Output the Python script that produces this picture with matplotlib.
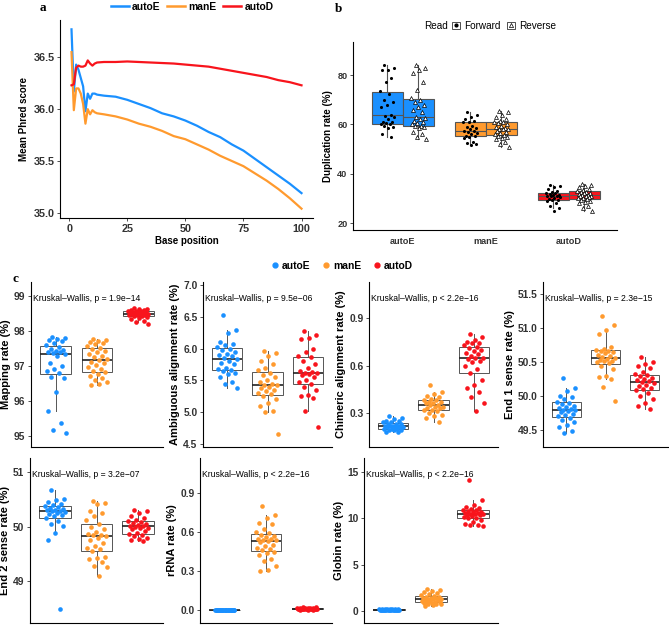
import numpy as np
import matplotlib
matplotlib.use("Agg")
import matplotlib.pyplot as plt
from matplotlib.lines import Line2D
from matplotlib.patches import Rectangle

plt.rcParams['font.family'] = ['Liberation Sans', 'DejaVu Sans']
plt.rcParams['font.weight'] = 'bold'
plt.rcParams['axes.labelweight'] = 'bold'

groups = ['autoE', 'manE', 'autoD']
colors = ['#1a90ff', '#ff9a2e', '#f8141c']

# ---- panel a: mean phred score per base position
base_pos = [1, 2, 3, 4, 5, 6, 7, 8, 9, 10, 11, 12, 15, 20, 25, 30, 35, 40, 45, 50,
            55, 60, 65, 70, 75, 80, 85, 90, 95, 100]
phred_autoE = [36.77, 36.17, 36.43, 36.38, 36.30, 36.22, 35.98, 36.15, 36.10, 36.15, 36.15, 36.14,
               36.13, 36.12, 36.09, 36.05, 36.01, 35.96, 35.93, 35.89, 35.84, 35.78, 35.73, 35.66,
               35.60, 35.52, 35.44, 35.36, 35.28, 35.19]
phred_manE = [36.55, 35.99, 36.20, 36.20, 36.15, 36.05, 35.86, 36.00, 35.95, 35.99, 35.97, 35.96,
              35.95, 35.93, 35.90, 35.86, 35.83, 35.79, 35.74, 35.71, 35.66, 35.61, 35.55, 35.50,
              35.45, 35.38, 35.31, 35.23, 35.14, 35.04]
phred_autoD = [36.23, 36.24, 36.40, 36.42, 36.41, 36.41, 36.42, 36.47, 36.44, 36.42, 36.44, 36.45,
               36.455, 36.455, 36.46, 36.455, 36.45, 36.445, 36.44, 36.43, 36.42, 36.41, 36.39, 36.37,
               36.35, 36.33, 36.31, 36.28, 36.26, 36.23]

# ---- panel b: duplication rate, forward / reverse reads
dup_fwd = {
    'autoE': [84, 83, 82, 82, 79, 77, 73.5, 72.5, 70, 69, 68, 67, 63.8, 63.6, 63, 62, 61, 61,
              60.5, 60.3, 60, 59.5, 59, 58.5, 56, 55],
    'manE': [65, 64, 63, 62, 61.5, 61, 61, 59.5, 59, 58.5, 58, 57.5, 57.5, 57, 56.5, 56, 55.5,
             55.3, 55, 54.5, 53, 52.5, 52, 51.5],
    'autoD': [35.5, 35, 34.5, 34, 33, 32.5, 32.2, 32, 31.8, 31.5, 31.2, 31, 31, 30.8, 30.5, 30,
              29.8, 29.5, 29.5, 29, 28, 27, 26, 25],
}
dup_rev = {
    'autoE': [84, 83, 82, 81, 77, 74, 70.5, 70, 69, 68, 67, 66, 65, 63, 62.6, 62, 61.5, 61, 60.5,
              60, 59.5, 59.2, 59, 58.5, 57, 56, 55, 54],
    'manE': [65.5, 65, 64, 63, 62, 61.5, 61, 60.8, 60.5, 60, 59.5, 59, 58.5, 58.3, 58.2, 58, 57.5,
             57, 56.5, 56, 55.8, 55.5, 55, 54.5, 54, 53, 52, 51],
    'autoD': [36, 35.5, 35, 34.5, 34, 33.5, 33, 32.8, 32.5, 32.3, 32, 31.8, 31.5, 31.3, 31.1, 31,
              30.8, 30.5, 30.3, 30, 29.6, 29.5, 29, 28.5, 28, 27, 26, 25],
}

# ---- panel c: QC metrics
mapping_rate = {
    'autoE': [97.83, 97.80, 97.78, 97.75, 97.72, 97.65, 97.60, 97.55, 97.50, 97.47, 97.44, 97.41,
              97.39, 97.36, 97.34, 97.28, 97.10, 97.00, 96.92, 96.85, 96.80, 96.70, 96.65, 96.25,
              95.72, 95.38, 95.18, 95.08],
    'manE': [97.78, 97.75, 97.72, 97.70, 97.66, 97.62, 97.58, 97.52, 97.48, 97.44, 97.40, 97.35,
             97.30, 97.25, 97.20, 97.16, 97.12, 97.08, 97.02, 96.97, 96.92, 96.86, 96.82, 96.78,
             96.72, 96.66, 96.60, 96.55, 96.50, 96.45],
    'autoD': [98.65, 98.63, 98.62, 98.60, 98.60, 98.58, 98.57, 98.56, 98.55, 98.54, 98.53, 98.52,
              98.51, 98.50, 98.50, 98.49, 98.48, 98.47, 98.46, 98.45, 98.44, 98.42, 98.40, 98.38,
              98.35, 98.30, 98.25, 98.20],
}
ambiguous_rate = {
    'autoE': [6.53, 6.30, 6.25, 6.10, 6.08, 6.05, 6.02, 6.00, 5.98, 5.95, 5.92, 5.90, 5.88, 5.85,
              5.83, 5.80, 5.78, 5.75, 5.70, 5.68, 5.66, 5.65, 5.62, 5.60, 5.55, 5.48, 5.45, 5.38],
    'manE': [5.96, 5.93, 5.88, 5.80, 5.75, 5.70, 5.66, 5.62, 5.58, 5.55, 5.50, 5.47, 5.45, 5.43,
             5.42, 5.40, 5.38, 5.35, 5.33, 5.30, 5.28, 5.25, 5.20, 5.15, 5.10, 5.02, 5.00, 4.66],
    'autoD': [6.28, 6.22, 6.17, 6.15, 6.00, 5.95, 5.88, 5.87, 5.80, 5.75, 5.70, 5.65, 5.63, 5.62,
              5.61, 5.60, 5.58, 5.55, 5.50, 5.47, 5.45, 5.40, 5.35, 5.27, 5.25, 5.22, 5.02, 4.76],
}
chimeric_rate = {
    'autoE': [0.28, 0.27, 0.26, 0.25, 0.25, 0.24, 0.24, 0.23, 0.23, 0.23, 0.22, 0.22, 0.22, 0.22,
              0.21, 0.21, 0.21, 0.21, 0.20, 0.20, 0.20, 0.19, 0.19, 0.19, 0.18, 0.18],
    'manE': [0.48, 0.43, 0.42, 0.41, 0.40, 0.39, 0.38, 0.38, 0.37, 0.37, 0.36, 0.36, 0.35, 0.35,
             0.34, 0.34, 0.33, 0.33, 0.32, 0.32, 0.31, 0.30, 0.29, 0.28, 0.27, 0.24],
    'autoD': [0.80, 0.78, 0.76, 0.75, 0.74, 0.74, 0.73, 0.72, 0.71, 0.70, 0.69, 0.68, 0.67, 0.66,
              0.65, 0.65, 0.64, 0.63, 0.62, 0.60, 0.58, 0.55, 0.51, 0.48, 0.46, 0.43, 0.40, 0.36,
              0.31],
}
end1_sense = {
    'autoE': [50.26, 50.12, 50.08, 50.00, 49.98, 49.95, 49.92, 49.90, 49.88, 49.86, 49.84, 49.82,
              49.81, 49.80, 49.79, 49.78, 49.76, 49.74, 49.72, 49.70, 49.68, 49.65, 49.62, 49.58,
              49.55, 49.48, 49.45],
    'manE': [51.18, 51.05, 50.97, 50.92, 50.72, 50.70, 50.68, 50.67, 50.66, 50.65, 50.63, 50.61,
             50.59, 50.57, 50.56, 50.55, 50.53, 50.52, 50.51, 50.50, 50.48, 50.45, 50.40, 50.30,
             50.28, 50.25, 50.13, 49.93],
    'autoD': [50.57, 50.50, 50.47, 50.45, 50.42, 50.35, 50.32, 50.31, 50.29, 50.27, 50.25, 50.23,
              50.22, 50.20, 50.19, 50.17, 50.15, 50.12, 50.10, 50.09, 50.05, 50.00, 49.95, 49.90,
              49.85, 49.81],
}
end2_sense = {
    'autoE': [50.67, 50.50, 50.48, 50.45, 50.42, 50.40, 50.38, 50.36, 50.35, 50.33, 50.31, 50.30,
              50.29, 50.28, 50.27, 50.25, 50.23, 50.22, 50.20, 50.15, 50.10, 50.05, 50.02, 49.88,
              49.75, 48.48],
    'manE': [50.47, 50.44, 50.42, 50.28, 50.25, 50.20, 50.12, 50.04, 50.00, 49.95, 49.90, 49.87,
             49.85, 49.84, 49.83, 49.80, 49.75, 49.70, 49.65, 49.60, 49.58, 49.55, 49.45, 49.42,
             49.40, 49.35, 49.28, 49.25, 49.10],
    'autoD': [50.30, 50.28, 50.25, 50.20, 50.15, 50.12, 50.10, 50.09, 50.07, 50.05, 50.03, 50.02,
              50.01, 50.00, 49.98, 49.97, 49.95, 49.92, 49.88, 49.86, 49.84, 49.82, 49.80, 49.78,
              49.75, 49.73],
}
rrna_rate = {
    'autoE': [0.003, 0.003, 0.002, 0.002, 0.002, 0.002, 0.002, 0.001, 0.001, 0.001, 0.001, 0.001,
              0.001, 0.001, 0.001, 0.001, 0.001, 0.001, 0.001, 0.0, 0.0, 0.0, 0.0, 0.0, 0.0, 0.0],
    'manE': [0.80, 0.73, 0.71, 0.67, 0.66, 0.62, 0.60, 0.59, 0.58, 0.57, 0.56, 0.55, 0.55, 0.54,
             0.54, 0.53, 0.52, 0.50, 0.49, 0.48, 0.47, 0.46, 0.45, 0.44, 0.42, 0.39, 0.38, 0.34,
             0.31, 0.30],
    'autoD': [0.022, 0.020, 0.018, 0.016, 0.015, 0.014, 0.013, 0.012, 0.011, 0.010, 0.010, 0.009,
              0.009, 0.008, 0.008, 0.007, 0.007, 0.006, 0.006, 0.005, 0.005, 0.004, 0.004, 0.003,
              0.003, 0.002],
}
globin_rate = {
    'autoE': [0.25, 0.22, 0.20, 0.19, 0.18, 0.17, 0.16, 0.16, 0.15, 0.15, 0.14, 0.14, 0.13, 0.13,
              0.12, 0.12, 0.11, 0.11, 0.10, 0.10, 0.09, 0.09, 0.08, 0.08, 0.07, 0.06],
    'manE': [2.40, 2.30, 2.20, 2.05, 1.95, 1.85, 1.70, 1.60, 1.55, 1.50, 1.45, 1.40, 1.35, 1.30,
             1.28, 1.25, 1.20, 1.15, 1.10, 1.05, 1.00, 0.95, 0.92, 0.90, 0.85, 0.80, 0.75, 0.70,
             0.60, 0.50],
    'autoD': [14.10, 12.00, 11.40, 11.20, 11.10, 11.00, 10.90, 10.85, 10.80, 10.70, 10.65, 10.60,
              10.55, 10.50, 10.50, 10.45, 10.40, 10.30, 10.20, 10.10, 10.05, 10.00, 9.80, 9.60,
              9.40, 9.30, 9.25, 9.20],
}

W, H = 669, 626
fig = plt.figure(figsize=(W / 100, H / 100), dpi=100)


def place(l, t, r, b):
    return fig.add_axes([l / W, 1 - b / H, (r - l) / W, (b - t) / H])


def classic(ax, size=7):
    for s in ['top', 'right']:
        ax.spines[s].set_visible(False)
    for s in ['left', 'bottom']:
        ax.spines[s].set_linewidth(0.8)
    ax.tick_params(length=2.5, width=0.6, color='#333333', labelsize=size,
                   labelcolor='#333333', pad=1.5)
    for t in ax.get_xticklabels() + ax.get_yticklabels():
        t.set_fontweight('bold')


def jitter(n, w):
    # fixed spread pattern, only used for horizontal placement of the dots
    return ((np.arange(n) * 0.618034 + 0.31) % 1 - 0.5) * 2 * w


# ---------------- panel a
ax = place(60, 20, 313, 218)
for vals, c in zip([phred_autoE, phred_manE, phred_autoD], colors):
    ax.plot(base_pos, vals, color=c, lw=1.6)
ax.set_xlim(-3.95, 104.95)
ax.set_ylim(34.95, 36.86)
ax.set_xticks([0, 25, 50, 75, 100])
ax.set_yticks([35.0, 35.5, 36.0, 36.5])
ax.set_yticklabels(['35.0', '35.5', '36.0', '36.5'])
classic(ax, 7.8)
ax.set_xlabel('Base position', fontsize=7, labelpad=2)
ax.set_ylabel('Mean Phred score', fontsize=7, labelpad=3)

fig.legend([Line2D([], [], color=c, lw=1.8) for c in colors], groups,
           loc='center', bbox_to_anchor=(192 / W, 1 - 7 / H), ncol=3, frameon=False,
           prop=dict(size=7.4, weight='bold'), handlelength=1.8, handletextpad=0.3,
           columnspacing=0.6, borderpad=0)

fig.text(40 / W, 1 - 8 / H, 'a', family=['Liberation Serif'], fontsize=9.5,
         fontweight='bold', ha='left', va='center')

# ---------------- panel b
ax = place(353, 42, 617, 230)
off = 0.1875
bw = 0.375
for i, g in enumerate(groups):
    for d, sign, mk in [(dup_fwd, -1, 'o'), (dup_rev, 1, '^')]:
        p = i + 1 + sign * off
        ax.boxplot([d[g]], positions=[p], widths=bw, patch_artist=True, showfliers=False,
                   showcaps=False,
                   boxprops=dict(facecolor=colors[i], edgecolor='#555555', lw=0.8),
                   whiskerprops=dict(color='#555555', lw=0.8),
                   medianprops=dict(color='#555555', lw=0.8))
        xs = p + jitter(len(d[g]), 0.09)
        if mk == 'o':
            ax.scatter(xs, d[g], s=5, color='black', zorder=3, lw=0)
        else:
            ax.scatter(xs, d[g], s=8, marker='^', facecolor='white', edgecolor='black',
                       lw=0.5, zorder=3)
ax.set_xlim(0.4, 3.58)
ax.set_ylim(17.2, 93.4)
ax.set_xticks([1, 2, 3])
ax.set_xticklabels(groups)
ax.set_yticks([20, 40, 60, 80])
classic(ax, 6.6)
ax.tick_params(axis='x', length=0, pad=5)
ax.set_ylabel('Duplication rate (%)', fontsize=7, labelpad=3)

fig.text(424 / W, 1 - 26 / H, 'Read', fontsize=7.2, fontweight='normal', ha='left', va='center')
h_fwd = (Rectangle((0, 0), 1, 1, facecolor='white', edgecolor='#333333', lw=0.6),
         Line2D([], [], marker='o', ls='', color='black', ms=2))
h_rev = (Rectangle((0, 0), 1, 1, facecolor='white', edgecolor='#333333', lw=0.6),
         Line2D([], [], marker='^', ls='', mfc='white', mec='black', ms=3, mew=0.5))
fig.legend([h_fwd, h_rev], ['Forward', 'Reverse'], loc='center',
           bbox_to_anchor=(504 / W, 1 - 26 / H), ncol=2, frameon=False,
           prop=dict(size=7.2, weight='normal'), handlelength=0.8, handleheight=0.8,
           handletextpad=0.4, columnspacing=0.6, borderpad=0)

fig.text(335 / W, 1 - 9 / H, 'b', family=['Liberation Serif'], fontsize=9.5,
         fontweight='bold', ha='left', va='center')

# ---------------- panel c
panels = [
    (mapping_rate, 'Mapping rate (%)', 'Kruskal\u2013Wallis, p = 1.9e\u221214', (31, 282, 163, 447),
     (94.69, 99.4), [95, 96, 97, 98, 99], None),
    (ambiguous_rate, 'Ambiguous alignment rate (%)', 'Kruskal\u2013Wallis, p = 9.5e\u221206',
     (203, 282, 332, 447), (4.45, 7.05), [4.5, 5.0, 5.5, 6.0, 6.5, 7.0], '{:.1f}'),
    (chimeric_rate, 'Chimeric alignment rate (%)', 'Kruskal\u2013Wallis, p < 2.2e\u221216',
     (369, 282, 498, 447), (0.085, 1.128), [0.3, 0.6, 0.9], '{:.1f}'),
    (end1_sense, 'End 1 sense rate (%)', 'Kruskal\u2013Wallis, p = 2.3e\u221215',
     (543, 282, 668, 447), (49.25, 51.68), [49.5, 50.0, 50.5, 51.0, 51.5], '{:.1f}'),
    (end2_sense, 'End 2 sense rate (%)', 'Kruskal\u2013Wallis, p = 3.2e\u221207',
     (30, 458, 163, 623), (48.23, 51.26), [49, 50, 51], None),
    (rrna_rate, 'rRNA rate (%)', 'Kruskal\u2013Wallis, p < 2.2e\u221216',
     (200, 458, 332, 623), (-0.1, 1.17), [0.0, 0.3, 0.6, 0.9], '{:.1f}'),
    (globin_rate, 'Globin rate (%)', 'Kruskal\u2013Wallis, p < 2.2e\u221216',
     (364, 458, 498, 623), (-1.3, 16.5), [0, 5, 10, 15], None),
]

for data, ylab, kw, rect, ylim, yt, fmt in panels:
    ax = place(*rect)
    for i, g in enumerate(groups):
        ax.boxplot([data[g]], positions=[i + 1], widths=0.75, patch_artist=True,
                   showfliers=False, showcaps=False,
                   boxprops=dict(facecolor='white', edgecolor='#555555', lw=0.7),
                   whiskerprops=dict(color='#555555', lw=0.7),
                   medianprops=dict(color='#222222', lw=1.2))
        ax.scatter(i + 1 + jitter(len(data[g]), 0.25), data[g], s=11, color=colors[i],
                   lw=0, zorder=3)
    ax.set_xlim(0.4, 3.6)
    ax.set_ylim(*ylim)
    ax.set_yticks(yt)
    if fmt:
        ax.set_yticklabels([fmt.format(v) for v in yt])
    ax.set_xticks([])
    classic(ax, 7.4)
    ax.set_ylabel(ylab, fontsize=8, labelpad=2)
    ax.text(0.015, 0.897, kw, transform=ax.transAxes, fontsize=6.2, fontweight='normal',
            family=['Liberation Sans Narrow', 'Liberation Sans'], ha='left', va='center')

fig.legend([Line2D([], [], marker='o', ls='', color=c, ms=3.5) for c in colors], groups,
           loc='center', bbox_to_anchor=(342 / W, 1 - 266 / H), ncol=3, frameon=False,
           prop=dict(size=7.4, weight='bold'), handlelength=0.8, handletextpad=0.3,
           columnspacing=1.1, borderpad=0)

fig.text(13 / W, 1 - 279 / H, 'c', family=['Liberation Serif'], fontsize=9.5,
         fontweight='bold', ha='left', va='center')

fig.savefig('out.png', dpi=100)
